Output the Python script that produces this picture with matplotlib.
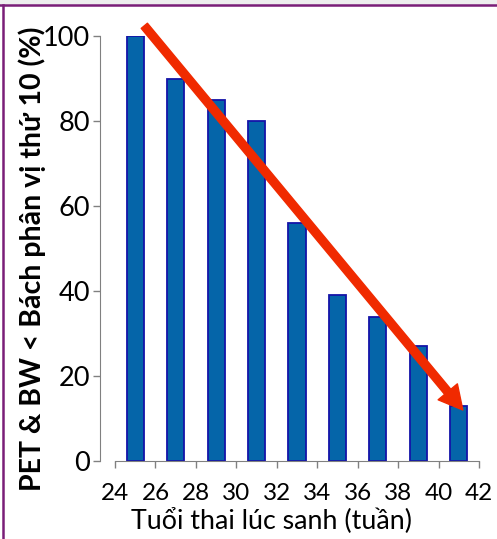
import matplotlib
matplotlib.use("Agg")
import matplotlib.pyplot as plt
from matplotlib.lines import Line2D

weeks = [25, 27, 29, 31, 33, 35, 37, 39, 41]
percent = [100, 90, 85, 80, 56, 39, 34, 27, 13]
xticks = [24, 26, 28, 30, 32, 34, 36, 38, 40, 42]
yticks = [0, 20, 40, 60, 80, 100]
ylabel = "PET & BW < Bách phân vị thứ 10 (%)"
xlabel = "Tuổi thai lúc sanh (tuần)"
arrow_start = (25.45, 102.4)
arrow_end = (41.2, 12.0)

plt.rcParams['font.family'] = ['Lato', 'DejaVu Sans']

fig = plt.figure(figsize=(4.97, 5.39), dpi=100)
ax = fig.add_axes([115/497, 78/539, (479-115)/497, (461-36)/539])

ax.bar(weeks, percent, width=0.85, color='#0565A9', edgecolor='#1414A8', linewidth=1.3, zorder=2)

ax.set_xlim(24, 42)
ax.set_ylim(0, 100)
ax.set_xticks(xticks)
ax.set_yticks(yticks)
ax.tick_params(axis='both', direction='out', length=5, width=1, color='#808080',
               labelcolor='black')
ax.tick_params(axis='y', pad=2, labelsize=19.5)
ax.tick_params(axis='x', pad=11, labelsize=17.5)

for s in ['top', 'right']:
    ax.spines[s].set_visible(False)
ax.spines['left'].set_position(('outward', 11))
ax.spines['left'].set_color('#808080')
ax.spines['bottom'].set_color('#808080')

ax.set_ylabel(ylabel, fontsize=20.5, fontweight='bold')
ax.yaxis.set_label_coords(-0.19, 0.475)
ax.set_xlabel(xlabel, fontsize=19.3)
ax.xaxis.set_label_coords(0.431, -0.108)

ax.annotate('', xy=arrow_end, xytext=arrow_start, annotation_clip=False,
            arrowprops=dict(width=5.8, headwidth=18, headlength=17, color='#F02A00',
                            shrink=0), zorder=5)

# figure border (purple) on top and left
fig.add_artist(Line2D([0, 1], [1 - 5/539, 1 - 5/539], color='#7A1E78', linewidth=1.8,
                      transform=fig.transFigure))
fig.add_artist(Line2D([3/497, 3/497], [0, 1 - 5/539], color='#7A1E78', linewidth=1.8,
                      transform=fig.transFigure))
fig.patches.append(plt.Rectangle((0, 1 - 5/539), 1, 5/539, transform=fig.transFigure,
                                 color='#EEEEEE', zorder=0))

fig.savefig('out.png', dpi=100)
